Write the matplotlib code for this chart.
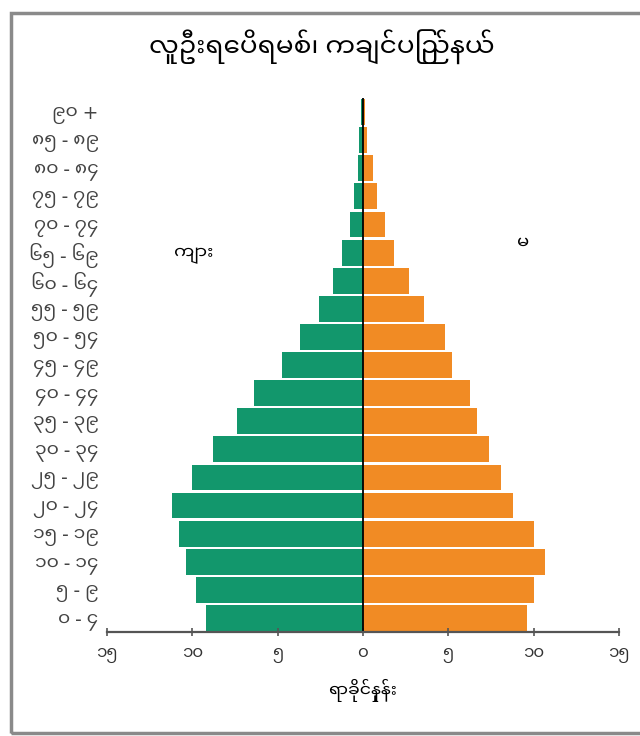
import matplotlib
matplotlib.use("Agg")
import matplotlib.pyplot as plt
from matplotlib.patches import Rectangle

plt.rcParams['font.family'] = ['Noto Sans Myanmar UI', 'DejaVu Sans']

# age groups, bottom to top
age_labels = ['၀ - ၄', '၅ - ၉', '၁၀ - ၁၄', '၁၅ - ၁၉', '၂၀ - ၂၄', '၂၅ - ၂၉',
              '၃၀ - ၃၄', '၃၅ - ၃၉', '၄၀ - ၄၄', '၄၅ - ၄၉', '၅၀ - ၅၄', '၅၅ - ၅၉',
              '၆၀ - ၆၄', '၆၅ - ၆၉', '၇၀ - ၇၄', '၇၅ - ၇၉', '၈၀ - ၈၄', '၈၅ - ၈၉', '၉၀ +']
# percent of population
male = [9.2, 9.75, 10.35, 10.75, 11.2, 10.0, 8.8, 7.35, 6.4, 4.75,
        3.7, 2.6, 1.75, 1.2, 0.75, 0.5, 0.3, 0.2, 0.1]
female = [9.6, 10.0, 10.7, 10.0, 8.8, 8.1, 7.4, 6.7, 6.3, 5.2,
          4.8, 3.6, 2.7, 1.8, 1.3, 0.85, 0.6, 0.25, 0.1]

x_ticks = [-15, -10, -5, 0, 5, 10, 15]
x_tick_labels = ['၁၅', '၁၀', '၅', '၀', '၅', '၁၀', '၁၅']

green = '#12976c'
orange = '#f18b24'

fig = plt.figure(figsize=(6.4, 7.36), dpi=100)
ax = fig.add_axes([0.167, 0.1413, 0.8, 0.7255])

y = list(range(len(age_labels)))
ax.barh(y, [-v for v in male], height=0.92, color=green)
ax.barh(y, female, height=0.92, color=orange)
ax.axvline(0, color='black', lw=1.3)

ax.set_xlim(-15, 15)
ax.set_ylim(-0.5, len(age_labels) - 0.5)
ax.set_xticks(x_ticks)
ax.set_xticklabels(x_tick_labels, fontsize=12, color='#333333')
ax.set_yticks(y)
ax.set_yticklabels(age_labels, fontsize=13.5, color='#444444')
ax.tick_params(axis='y', length=0, pad=6)
ax.tick_params(axis='x', direction='inout', length=6, width=1.2, color='#555555', pad=6)

for s in ['top', 'right', 'left']:
    ax.spines[s].set_visible(False)
ax.spines['bottom'].set_color('#555555')
ax.spines['bottom'].set_linewidth(1.6)

ax.text(-9.9, 12.9, 'ကျား', fontsize=13, ha='center', va='center')
ax.text(9.4, 13.3, 'မ', fontsize=13, ha='center', va='center')

fig.text(0.503, 0.935, 'လူဦးရေပိရမစ်၊ ကချင်ပြည်နယ်', fontsize=19, ha='center', va='center')
fig.text(0.567, 0.0625, 'ရာခိုင်နှုန်း', fontsize=12.5, ha='center', va='center')

# outer frame
fig.patches.append(Rectangle((0.017, 0.004), 1.0, 0.978, transform=fig.transFigure,
                             fill=False, edgecolor='#8a8a8a', lw=2.5))

fig.savefig('out.png', dpi=100)
